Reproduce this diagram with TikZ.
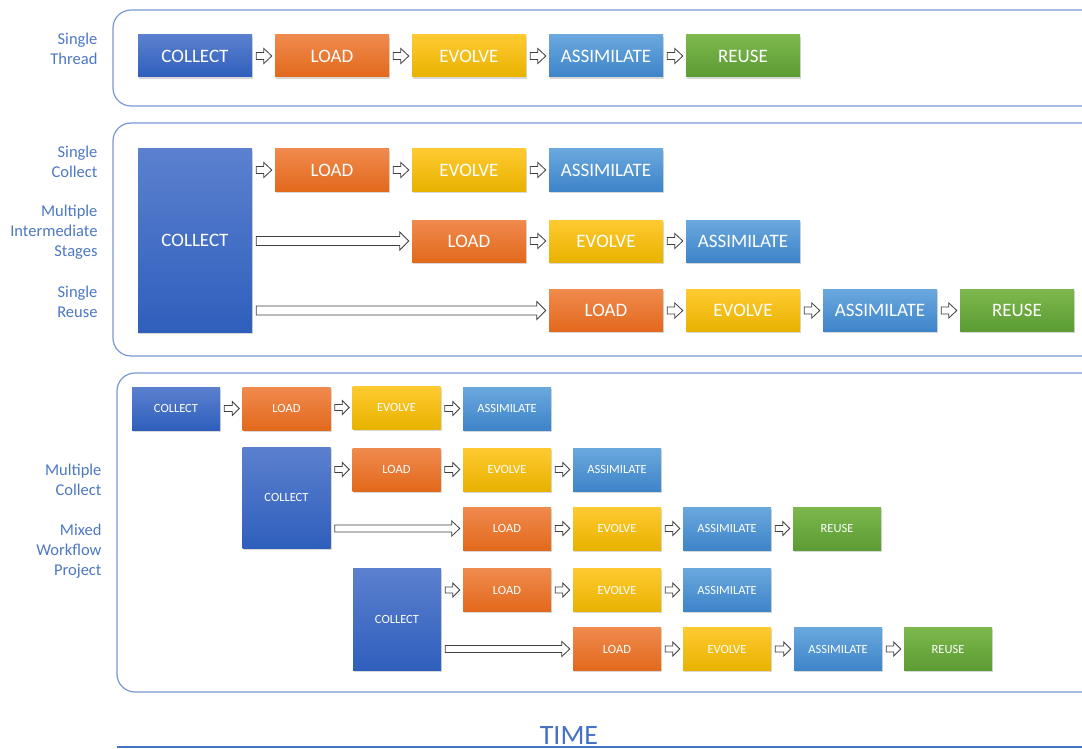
\documentclass[tikz,border=0pt]{standalone}
\usepackage{fontspec}
\setmainfont{Carlito}
\usetikzlibrary{calc,shadows}

\definecolor{collectTop}{HTML}{5B80CF}
\definecolor{collectBot}{HTML}{2F5FBC}
\definecolor{loadTop}{HTML}{F08A4E}
\definecolor{loadBot}{HTML}{E2691C}
\definecolor{evolveTop}{HTML}{FFCA30}
\definecolor{evolveBot}{HTML}{E8B200}
\definecolor{assimTop}{HTML}{6AA8DE}
\definecolor{assimBot}{HTML}{3E84C9}
\definecolor{reuseTop}{HTML}{7CB84D}
\definecolor{reuseBot}{HTML}{5C9C34}
\definecolor{frameBlue}{HTML}{7898D6}
\definecolor{labelBlue}{HTML}{4D78C4}
\definecolor{timeBlue}{HTML}{4472C4}

\tikzset{
  stagebox/.style={rectangle, inner sep=0pt, text=white,
    drop shadow={opacity=0.3, shadow xshift=1.2pt, shadow yshift=-1.8pt}},
  bigstage/.style={stagebox, minimum width=114, minimum height=42,
    font=\fontsize{19}{19}\selectfont},
  smallstage/.style={stagebox, minimum width=88, minimum height=43,
    font=\fontsize{12.5}{12.5}\selectfont},
  collect/.style={top color=collectTop, bottom color=collectBot},
  load/.style={top color=loadTop, bottom color=loadBot},
  evolve/.style={top color=evolveTop, bottom color=evolveBot},
  assim/.style={top color=assimTop, bottom color=assimBot},
  reuse/.style={top color=reuseTop, bottom color=reuseBot},
  frame/.style={draw=frameBlue, line width=1.2pt, rounded corners=18pt},
  sidelabel/.style={anchor=east, align=right, text=labelBlue,
    font=\fontsize{16.5}{20}\selectfont},
  arrowline/.style={draw=black!75, line width=0.8pt, fill=white, line join=miter},
}

% outlined block arrow from the right side of #1 to the left side of #2,
% at the height of #2; #3 half shaft, #4 half head, #5 head length
\newcommand\blkarrow[5]{%
  \draw[arrowline] let \p1=(#1.east), \p2=(#2.west) in
    (\x1+4,\y2-#3) -- (\x2-3-#5,\y2-#3) -- (\x2-3-#5,\y2-#4) -- (\x2-3,\y2)
    -- (\x2-3-#5,\y2+#4) -- (\x2-3-#5,\y2+#3) -- (\x1+4,\y2+#3) -- cycle;}

\begin{document}
\begin{tikzpicture}[x=1pt,y=-1pt]
\useasboundingbox (0,0) rectangle (1082,749);
\clip (0,0) rectangle (1082,749);
\fill[white] (0,0) rectangle (1082,749);

% frames
\draw[frame] (113,10) rectangle (1120,106);
\draw[frame] (113,123) rectangle (1120,356);
\draw[frame] (117,373) rectangle (1120,692);

% side labels
\node[sidelabel] (lt) at (101,49) {Single\\Thread};
\node[sidelabel] (lsc) at (101,161.5) {Single\\Collect};
\node[sidelabel] (lmi) at (101,232) {Multiple\\Intermediate\\Stages};
\node[sidelabel] (lsr) at (101,302) {Single\\Reuse};
\node[sidelabel] (lmc) at (105,480) {Multiple\\Collect};
\node[sidelabel] (lmw) at (105,551) {Mixed\\Workflow\\Project};

% single thread
\node[bigstage, collect] (t1c) at (195,56) {COLLECT};
\node[bigstage, load]    (t1l) at (332,56) {LOAD};
\node[bigstage, evolve]  (t1e) at (469,56) {EVOLVE};
\node[bigstage, assim]   (t1a) at (606,56) {ASSIMILATE};
\node[bigstage, reuse]   (t1r) at (743,56) {REUSE};
\blkarrow{t1c}{t1l}{3.5}{7.5}{8}
\blkarrow{t1l}{t1e}{3.5}{7.5}{8}
\blkarrow{t1e}{t1a}{3.5}{7.5}{8}
\blkarrow{t1a}{t1r}{3.5}{7.5}{8}

% single collect, multiple intermediate stages
\node[bigstage, collect, minimum height=183] (s2c) at (195,240.5) {COLLECT};
\node[bigstage, load]   (s2l1) at (332,170) {LOAD};
\node[bigstage, evolve] (s2e1) at (469,170) {EVOLVE};
\node[bigstage, assim]  (s2a1) at (606,170) {ASSIMILATE};
\node[bigstage, load]   (s2l2) at (469,241) {LOAD};
\node[bigstage, evolve] (s2e2) at (606,241) {EVOLVE};
\node[bigstage, assim]  (s2a2) at (743,241) {ASSIMILATE};
\node[bigstage, load]   (s2l3) at (606,310.5) {LOAD};
\node[bigstage, evolve] (s2e3) at (743,310.5) {EVOLVE};
\node[bigstage, assim]  (s2a3) at (880,310.5) {ASSIMILATE};
\node[bigstage, reuse]  (s2r3) at (1017,310.5) {REUSE};
\blkarrow{s2c}{s2l1}{3.5}{7.5}{8}
\blkarrow{s2l1}{s2e1}{3.5}{7.5}{8}
\blkarrow{s2e1}{s2a1}{3.5}{7.5}{8}
\blkarrow{s2c}{s2l2}{4.5}{9}{9}
\blkarrow{s2l2}{s2e2}{3.5}{7.5}{8}
\blkarrow{s2e2}{s2a2}{3.5}{7.5}{8}
\blkarrow{s2c}{s2l3}{4.5}{9}{9}
\blkarrow{s2l3}{s2e3}{3.5}{7.5}{8}
\blkarrow{s2e3}{s2a3}{3.5}{7.5}{8}
\blkarrow{s2a3}{s2r3}{3.5}{7.5}{8}

% multiple collect, mixed workflow
\node[smallstage, collect] (m1c) at (176,408.5) {COLLECT};
\node[smallstage, load]    (m1l) at (286.5,408.5) {LOAD};
\node[smallstage, evolve]  (m1e) at (396.5,407.5) {EVOLVE};
\node[smallstage, assim]   (m1a) at (507,408.5) {ASSIMILATE};
\blkarrow{m1c}{m1l}{3}{7}{7}
\blkarrow{m1l}{m1e}{3}{7}{7}
\blkarrow{m1e}{m1a}{3}{7}{7}

\node[smallstage, collect, minimum height=101] (m2c) at (286.5,497.5) {COLLECT};
\node[smallstage, load]   (m2l1) at (396.5,469.5) {LOAD};
\node[smallstage, evolve] (m2e1) at (507,469.5) {EVOLVE};
\node[smallstage, assim]  (m2a1) at (617,469.5) {ASSIMILATE};
\node[smallstage, load]   (m2l2) at (507,528.5) {LOAD};
\node[smallstage, evolve] (m2e2) at (617,528.5) {EVOLVE};
\node[smallstage, assim]  (m2a2) at (727,528.5) {ASSIMILATE};
\node[smallstage, reuse]  (m2r2) at (837,528.5) {REUSE};
\blkarrow{m2c}{m2l1}{3}{7}{7}
\blkarrow{m2l1}{m2e1}{3}{7}{7}
\blkarrow{m2e1}{m2a1}{3}{7}{7}
\blkarrow{m2c}{m2l2}{3.5}{7.5}{8}
\blkarrow{m2l2}{m2e2}{3}{7}{7}
\blkarrow{m2e2}{m2a2}{3}{7}{7}
\blkarrow{m2a2}{m2r2}{3}{7}{7}

\node[smallstage, collect, minimum height=102] (m3c) at (397,619) {COLLECT};
\node[smallstage, load]   (m3l1) at (507,590) {LOAD};
\node[smallstage, evolve] (m3e1) at (617,590) {EVOLVE};
\node[smallstage, assim]  (m3a1) at (727,590) {ASSIMILATE};
\node[smallstage, load]   (m3l2) at (617,649) {LOAD};
\node[smallstage, evolve] (m3e2) at (727,649) {EVOLVE};
\node[smallstage, assim]  (m3a2) at (838,649) {ASSIMILATE};
\node[smallstage, reuse]  (m3r2) at (948,649) {REUSE};
\blkarrow{m3c}{m3l1}{3}{7}{7}
\blkarrow{m3l1}{m3e1}{3}{7}{7}
\blkarrow{m3e1}{m3a1}{3}{7}{7}
\blkarrow{m3c}{m3l2}{3.5}{7.5}{8}
\blkarrow{m3l2}{m3e2}{3}{7}{7}
\blkarrow{m3e2}{m3a2}{3}{7}{7}
\blkarrow{m3a2}{m3r2}{3}{7}{7}

% time axis
\coordinate (axl) at (117,747);
\coordinate (axr) at (1082,747);
\draw[timeBlue, line width=1.8pt] (axl) -- (axr);
\node[text=timeBlue, font=\fontsize{28}{28}\selectfont, anchor=base, inner sep=0pt] (time) at (569,744) {TIME};
\end{tikzpicture}
\end{document}
